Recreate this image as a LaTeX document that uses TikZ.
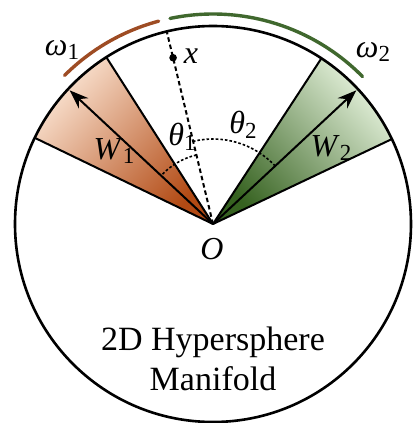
\documentclass[tikz,border=0pt]{standalone}
\usepackage{fontspec}
\setmainfont{Liberation Serif}
\usetikzlibrary{arrows.meta,calc}

\definecolor{rustdark}{RGB}{178,74,20}
\definecolor{rustlight}{RGB}{250,226,208}
\definecolor{leafdark}{RGB}{54,98,32}
\definecolor{leaflight}{RGB}{228,241,219}
\definecolor{rustarc}{RGB}{158,76,36}
\definecolor{leafarc}{RGB}{64,104,46}

\newcommand{\symsub}[2]{\textit{#1}\raisebox{-0.3ex}{\fontsize{23}{23}\selectfont #2}}

\begin{document}
\begin{tikzpicture}[x=1pt, y=1pt,
    lbl/.style={font=\fontsize{32}{36}\selectfont, inner sep=0pt},
    edge/.style={line width=2pt},
    vec/.style={line width=2pt, -{Stealth[length=19pt, width=14pt]}},
    ang/.style={dash pattern=on 2.6pt off 2pt, line width=1.6pt},
    band/.style={line width=3.4pt, line cap=round}]

    \useasboundingbox (-213,-199) rectangle (200,224);

    % Centre
    \coordinate (O) at (0,0);

    % Wedge of class 1
    \shade[top color=rustlight, bottom color=rustdark, shading angle=47]
        (O) -- (122.6:198pt) arc[start angle=122.6, end angle=154.2, radius=198pt] -- cycle;
    \draw[edge] (O) -- (122.6:198pt);
    \draw[edge] (O) -- (154.2:198pt);

    % Wedge of class 2
    \shade[top color=leaflight, bottom color=leafdark, shading angle=-47]
        (O) -- (25.4:198pt) arc[start angle=25.4, end angle=56.8, radius=198pt] -- cycle;
    \draw[edge] (O) -- (25.4:198pt);
    \draw[edge] (O) -- (56.8:198pt);

    % Hypersphere
    \draw[line width=2.6pt] (O) circle[radius=198pt];

    % Sample x
    \coordinate (rim) at (103.5:198pt);
    \coordinate (xp) at (103.5:171pt);
    \draw[dash pattern=on 4.5pt off 3pt, line width=2pt] (O) -- (rim);
    \fill (xp) circle[radius=3.8pt];
    \node[lbl, font=\fontsize{32}{36}\selectfont\itshape] (xlbl) at (-22,168) {x};

    % Weight vectors
    \coordinate (w1) at (137:196pt);
    \coordinate (w2) at (43:196pt);
    \draw[vec] (O) -- (w1);
    \draw[vec] (O) -- (w2);

    % Angles
    \draw[ang] (103.5:71pt) arc[start angle=103.5, end angle=137, radius=71pt];
    \draw[ang] (43:85pt) arc[start angle=43, end angle=103.5, radius=85pt];

    % Outer arcs
    \draw[band, rustarc] (135:210pt) arc[start angle=135, end angle=105, radius=210pt];
    \draw[band, leafarc] (101.8:210pt) arc[start angle=101.8, end angle=44.6, radius=210pt];

    % Labels
    \node[lbl] (om1) at (-151,174) {\symsub{ω}{1}};
    \node[lbl] (om2) at (160,172) {\symsub{ω}{2}};
    \node[lbl] (W1) at (-99,73) {\symsub{W}{1}};
    \node[lbl] (W2) at (118,76) {\symsub{W}{2}};
    \node[lbl] (th1) at (-31,87) {\symsub{θ}{1}};
    \node[lbl] (th2) at (30,99) {\symsub{θ}{2}};
    \node[lbl, font=\fontsize{32}{36}\selectfont\itshape] (Olbl) at (-1,-25) {O};

    % Caption
    \node[inner sep=0pt, align=center, font=\fontsize{34}{40}\selectfont] (cap)
        at (0,-135) {2D Hypersphere\\Manifold};
\end{tikzpicture}
\end{document}
